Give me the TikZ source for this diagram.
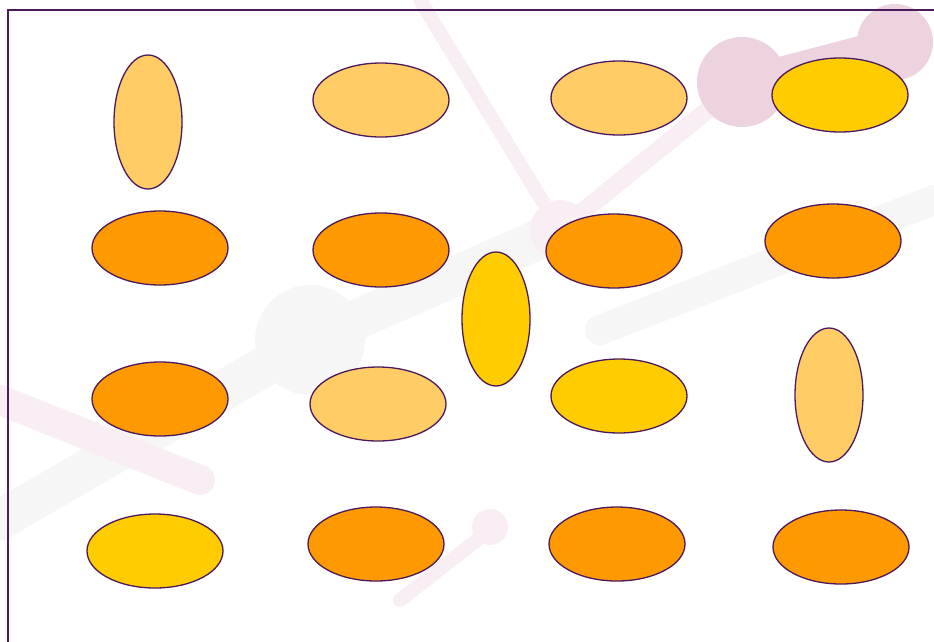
\documentclass[tikz,border=0pt]{standalone}
\usetikzlibrary{shapes.geometric}
\definecolor{frameC}{HTML}{4A1A5C}
\definecolor{lightO}{HTML}{FFCC66}
\definecolor{midO}{HTML}{FF9900}
\definecolor{yel}{HTML}{FFCC00}
\definecolor{pinkbg}{HTML}{F9EEF3}
\definecolor{pinkbg2}{HTML}{EDD3E0}
\definecolor{graybg}{HTML}{F6F6F6}
\tikzset{
  oval/.style={ellipse, draw=frameC, line width=1.3pt, inner sep=0pt,
    minimum width=136pt, minimum height=74pt},
  tall/.style={ellipse, draw=frameC, line width=1.3pt, inner sep=0pt,
    minimum width=68pt, minimum height=134pt}
}
\begin{document}
\begin{tikzpicture}[x=1pt,y=-1pt]
\useasboundingbox (0,0) rectangle (934,641);
\fill[white] (0,0) rectangle (934,641);
% faint background molecule
\begin{scope}
\clip (0,0) rectangle (934,641);
\draw[graybg, line width=40pt, line cap=round] (0,520) -- (310,340) -- (560,230);
\draw[graybg, line width=30pt, line cap=round] (600,330) -- (934,200);
\fill[graybg] (310,340) circle (55);
\draw[pinkbg, line width=18pt, line cap=round] (560,230) -- (742,82);
\draw[pinkbg, line width=14pt, line cap=round] (420,0) -- (560,230);
\draw[pinkbg, line width=30pt, line cap=round] (0,400) -- (200,480);
\draw[pinkbg, line width=14pt, line cap=round] (400,600) -- (490,530);
\fill[pinkbg] (560,230) circle (30);
\fill[pinkbg] (490,527) circle (18);
\draw[pinkbg2, line width=30pt, line cap=round] (742,82) -- (895,42);
\fill[pinkbg2] (742,82) circle (45);
\fill[pinkbg2] (895,42) circle (38);
\end{scope}
% frame
\draw[frameC, line width=1.6pt] (8,660) -- (8,10) -- (950,10);
% ellipses
\node[tall, fill=lightO] (a1) at (148,122) {};
\node[oval, fill=lightO] (a2) at (381,100) {};
\node[oval, fill=lightO] (a3) at (619,98) {};
\node[oval, fill=yel] (a4) at (840,95) {};
\node[oval, fill=midO] (b1) at (160,248) {};
\node[oval, fill=midO] (b2) at (381,250) {};
\node[oval, fill=midO] (b3) at (614,251) {};
\node[oval, fill=midO] (b4) at (833,241) {};
\node[tall, fill=yel] (v) at (496,319) {};
\node[oval, fill=midO] (c1) at (160,399) {};
\node[oval, fill=lightO] (c2) at (378,404) {};
\node[oval, fill=yel] (c3) at (619,396) {};
\node[tall, fill=lightO] (c4) at (829,395) {};
\node[oval, fill=yel] (d1) at (155,551) {};
\node[oval, fill=midO] (d2) at (376,544) {};
\node[oval, fill=midO] (d3) at (617,544) {};
\node[oval, fill=midO] (d4) at (841,547) {};
\end{tikzpicture}
\end{document}
